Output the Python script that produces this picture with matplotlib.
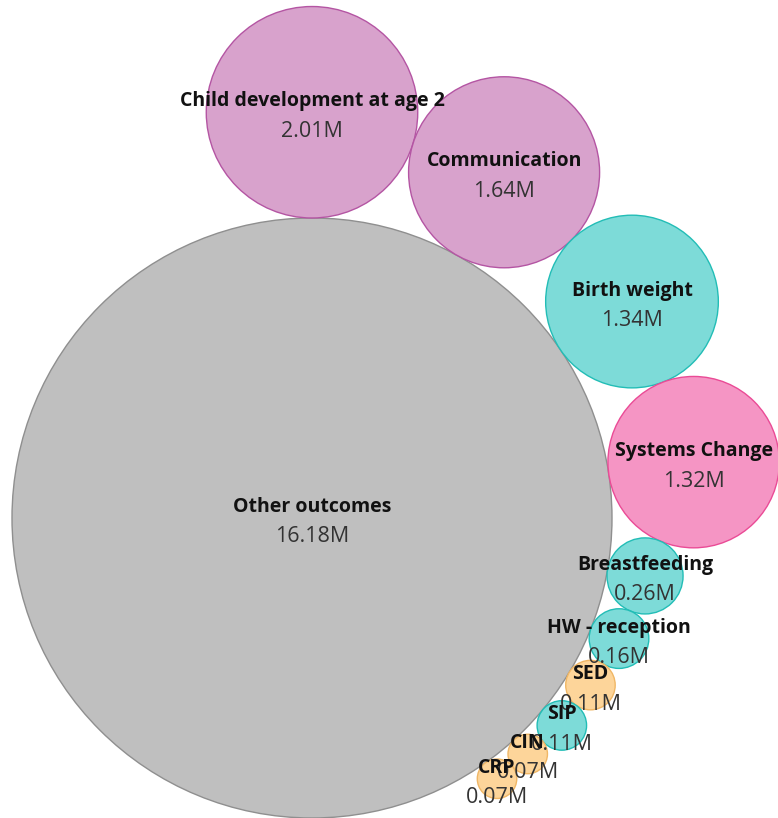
import numpy as np
import matplotlib.pyplot as plt
from matplotlib.patches import Circle

# Values (millions), largest first is the hub, the rest go around it clockwise
hub_label = 'Other outcomes'
hub_value = 16.18

labels = ['Child development at age 2', 'Communication', 'Birth weight',
          'Systems Change', 'Breastfeeding', 'HW - reception', 'SED', 'SIP',
          'CIN', 'CRP']
values = [2.01, 1.64, 1.34, 1.32, 0.26, 0.16, 0.11, 0.11, 0.07, 0.07]
groups = ['purple', 'purple', 'teal', 'pink', 'teal', 'teal', 'orange',
          'teal', 'orange', 'orange']

fills = {'grey': '#bfbfbf', 'purple': '#d8a2cc', 'teal': '#7ddbd8',
         'pink': '#f595c4', 'orange': '#fdd59a'}
edges = {'grey': '#8f8f8f', 'purple': '#b455a3', 'teal': '#22bdb6',
         'pink': '#ea4b96', 'orange': '#f0b766'}

plt.rcParams['font.family'] = ['Open Sans', 'DejaVu Sans']

scale = 300 / np.sqrt(hub_value)   # pixels per sqrt(M)
R = scale * np.sqrt(hub_value)
radii = [scale * np.sqrt(v) for v in values]

# place satellites: first on top of the hub, the others tangent to hub and previous one
angles = [np.pi / 2]
for i in range(1, len(radii)):
    d1 = R + radii[i - 1]
    d2 = R + radii[i]
    d12 = radii[i - 1] + radii[i]
    theta = np.arccos((d1**2 + d2**2 - d12**2) / (2 * d1 * d2))
    angles.append(angles[-1] - theta)
centers = [((R + r) * np.cos(a), (R + r) * np.sin(a)) for r, a in zip(radii, angles)]

fig = plt.figure(figsize=(7.78, 8.18), dpi=100)
ax = fig.add_axes([0, 0, 1, 1])

lab_size, val_size = 14, 15.5

ax.add_patch(Circle((0, 0), R, facecolor=fills['grey'], edgecolor=edges['grey'], lw=1))
ax.text(0, 11, hub_label, ha='center', va='center', fontsize=lab_size, fontweight='bold', color='#111111')
ax.text(0, -19, f'{hub_value:.2f}M', ha='center', va='center', fontsize=val_size, color='#333333')

for (cx, cy), r, lab, v, g in zip(centers, radii, labels, values, groups):
    ax.add_patch(Circle((cx, cy), r, facecolor=fills[g], edgecolor=edges[g], lw=1))
for (cx, cy), r, lab, v, g in zip(centers, radii, labels, values, groups):
    ax.text(cx, cy + 11, lab, ha='center', va='center', fontsize=lab_size, fontweight='bold', color='#111111')
    ax.text(cx, cy - 19, f'{v:.2f}M', ha='center', va='center', fontsize=val_size, color='#333333')

ax.set_xlim(-312, 466)
ax.set_ylim(-300, 518)
ax.set_aspect('equal')
ax.axis('off')

fig.savefig('out.png', dpi=100)
